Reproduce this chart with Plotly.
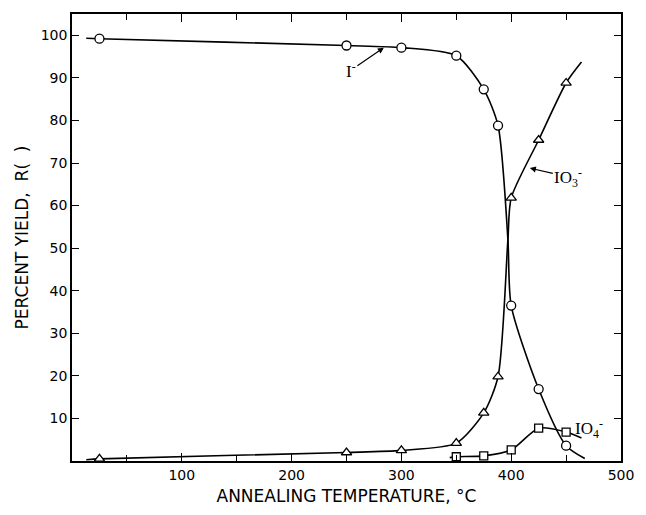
import plotly.graph_objects as go

# Measured points (annealing temperature in degC, percent yield)
iodide_t = [25, 250, 300, 350, 375, 388, 400, 425, 450]
iodide_y = [99.2, 97.6, 97.1, 95.2, 87.3, 78.8, 36.5, 16.9, 3.6]

iodate_t = [25, 250, 300, 350, 375, 388, 400, 425, 450]
iodate_y = [0.5, 2.0, 2.5, 4.2, 11.3, 19.8, 61.8, 75.4, 88.8]

periodate_t = [350, 375, 400, 425, 450]
periodate_y = [1.0, 1.2, 2.6, 7.7, 6.8]

# Smooth drawn curves (including the extended ends
# and the crossing of the I- and IO3- curves)
iodide_curve_t = [13, 25, 250, 300, 350, 375, 388, 397, 400, 425, 450, 467]
iodide_curve_y = [99.3, 99.2, 97.6, 97.1, 95.2, 87.3, 78.8, 52.0, 36.5, 16.9, 3.6, 0.6]

iodate_curve_t = [13, 25, 250, 300, 350, 375, 388, 397, 400, 425, 450, 464]
iodate_curve_y = [0.3, 0.5, 2.0, 2.5, 4.2, 11.3, 19.8, 52.0, 61.8, 75.4, 88.8, 93.7]

periodate_curve_t = [344, 350, 375, 400, 425, 450, 464]
periodate_curve_y = [0.8, 1.0, 1.2, 2.6, 7.7, 6.8, 5.4]

x_ticks = [100, 200, 300, 400, 500]
y_ticks = [10, 20, 30, 40, 50, 60, 70, 80, 90, 100]

fig = go.Figure()

line_style = dict(color="black", width=1.6, shape="spline", smoothing=0.7)
for ct, cy in [(iodide_curve_t, iodide_curve_y),
               (iodate_curve_t, iodate_curve_y),
               (periodate_curve_t, periodate_curve_y)]:
    fig.add_trace(go.Scatter(x=ct, y=cy, mode="lines", line=line_style,
                             hoverinfo="skip", showlegend=False))

mk_line = dict(color="black", width=1.3)
fig.add_trace(go.Scatter(x=iodide_t, y=iodide_y, mode="markers", name="I-",
                         marker=dict(symbol="circle", size=9, color="white", line=mk_line),
                         showlegend=False))
fig.add_trace(go.Scatter(x=iodate_t, y=iodate_y, mode="markers", name="IO3-",
                         marker=dict(symbol="triangle-up", size=9, color="white", line=mk_line),
                         showlegend=False))
fig.add_trace(go.Scatter(x=periodate_t, y=periodate_y, mode="markers", name="IO4-",
                         marker=dict(symbol="square", size=8, color="white", line=mk_line),
                         showlegend=False))

lab_font = dict(family="Liberation Serif", size=17, color="black")
fig.add_annotation(x=284, y=97.1, ax=254, ay=91.8, axref="x", ayref="y",
                   text="I<sup>-</sup>", showarrow=True, arrowhead=2, arrowsize=1,
                   arrowwidth=1.2, arrowcolor="black", font=lab_font, standoff=0)
fig.add_annotation(x=417, y=68.8, ax=452, ay=66.7, axref="x", ayref="y",
                   text="IO<sub>3</sub><sup>-</sup>", showarrow=True, arrowhead=2, arrowsize=1,
                   arrowwidth=1.2, arrowcolor="black", font=lab_font, standoff=0)
fig.add_annotation(x=471, y=7.7, text="IO<sub>4</sub><sup>-</sup>", showarrow=False,
                   font=lab_font)

axis_font = dict(family="DejaVu Sans", size=14, color="black")
title_font = dict(family="DejaVu Sans", size=17, color="black")
fig.update_xaxes(range=[0, 500], tickvals=x_ticks, ticktext=[str(v) for v in x_ticks],
                 ticks="inside", ticklen=8, tickwidth=1.2, tickcolor="black",
                 minor=dict(dtick=50, ticks="inside", ticklen=6, tickcolor="black"),
                 showline=True, linecolor="black", linewidth=1.5, mirror="ticks",
                 showgrid=False, zeroline=False, tickfont=axis_font,
                 title=dict(text="ANNEALING TEMPERATURE, °C", font=title_font,
                            standoff=9))
fig.update_yaxes(range=[0, 105], tickvals=y_ticks, ticktext=[str(v) for v in y_ticks],
                 ticks="inside", ticklen=7, tickwidth=1.2, tickcolor="black",
                 showline=True, linecolor="black", linewidth=1.5, mirror="ticks",
                 showgrid=False, zeroline=False, tickfont=axis_font,
                 title=dict(text="PERCENT YIELD,  R(  )", font=title_font,
                            standoff=8))

fig.update_layout(width=646, height=515, margin=dict(l=72, r=15, t=13, b=48),
                  paper_bgcolor="white", plot_bgcolor="white", showlegend=False)

fig.write_html("out.html")
